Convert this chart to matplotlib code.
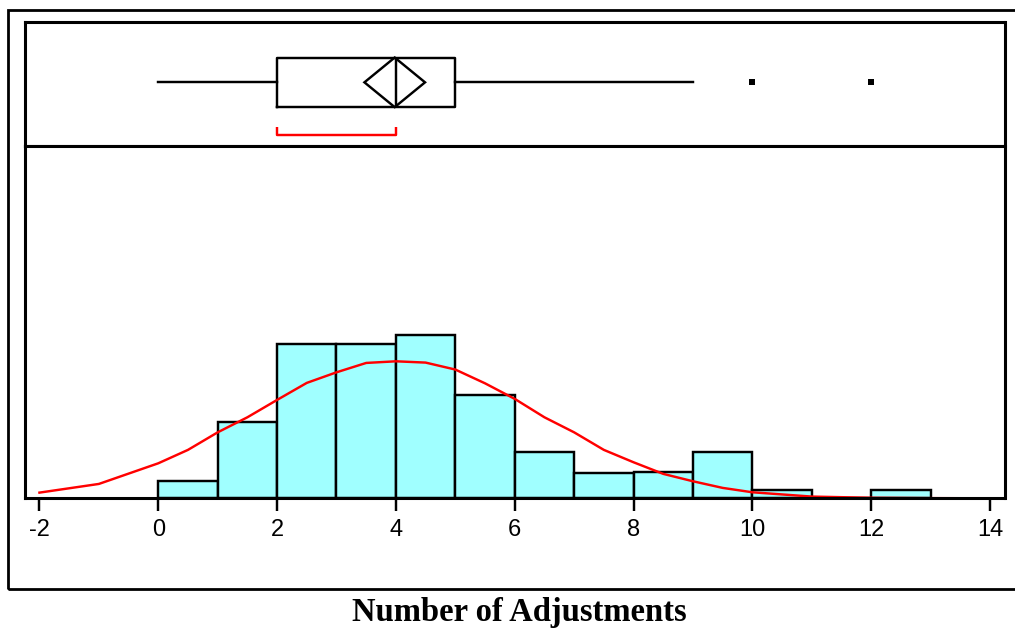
import matplotlib
matplotlib.use("Agg")
import matplotlib.pyplot as plt
from matplotlib.patches import Rectangle, Polygon

# ---- data ----
bin_edges_left = [0, 1, 2, 3, 4, 5, 6, 7, 8, 9, 10, 11, 12]
bin_counts = [2.0, 8.9, 17.9, 17.9, 19.0, 12.0, 5.4, 3.0, 3.1, 5.4, 1.0, 0.0, 1.0]

curve_x = [-2, -1, 0, 0.5, 1, 1.5, 2, 2.5, 3, 3.5, 4, 4.5, 5, 5.5, 6, 6.5,
           7, 7.5, 8, 8.5, 9, 9.5, 10, 11, 12, 13, 14]
curve_y = [0.66, 1.67, 4.07, 5.63, 7.67, 9.42, 11.44, 13.42, 14.65, 15.74, 15.93,
           15.78, 14.97, 13.37, 11.56, 9.42, 7.67, 5.63, 4.19, 2.84, 1.98, 1.21,
           0.70, 0.20, 0.06, 0.02, 0.0]

box_q1, box_median, box_q3 = 2, 4, 5
whisker_lo, whisker_hi = 0, 9
outliers = [10, 12]
mean_value = 3.98
mean_ci_half = 0.51
shortest_half = (2, 4)

x_ticks = [-2, 0, 2, 4, 6, 8, 10, 12, 14]
x_label = "Number of Adjustments"

# ---- figure ----
W, H = 1015, 631
fig = plt.figure(figsize=(W / 100, H / 100), dpi=100)

left_px, right_px = 24.6, 1004.5
top_px, sep_px, base_px = 21.7, 145.7, 498.3
xlim = (-2.25, 14.244)

def fx(px):
    return px / W

def fy(py):
    return 1 - py / H

ax_box = fig.add_axes([fx(left_px), fy(sep_px), fx(right_px - left_px), (sep_px - top_px) / H])
ax_hist = fig.add_axes([fx(left_px), fy(base_px), fx(right_px - left_px), (base_px - sep_px) / H])

# outer frame
fig.add_artist(Rectangle((fx(7.8), fy(589.3)), fx(1030 - 7.8), (589.3 - 10) / H,
                         transform=fig.transFigure, fill=False, lw=2.0, ec="black",
                         clip_on=False))

LW = 1.75

# ---- box plot ----
ax_box.set_xlim(*xlim)
ax_box.set_ylim(0, 1)
ycen = 0.511
stats = [dict(med=box_median, q1=box_q1, q3=box_q3, whislo=whisker_lo,
              whishi=whisker_hi, fliers=outliers)]
ax_box.bxp(stats, positions=[ycen], widths=0.4, vert=False, showcaps=False,
           boxprops=dict(color="black", lw=LW),
           whiskerprops=dict(color="black", lw=LW),
           medianprops=dict(color="black", lw=LW),
           flierprops=dict(marker="s", markersize=5.0, markerfacecolor="black",
                           markeredgewidth=0, linestyle="none"))
hh = 0.2
ax_box.add_patch(Polygon([(mean_value - mean_ci_half, ycen), (mean_value, ycen + hh),
                          (mean_value + mean_ci_half, ycen), (mean_value, ycen - hh)],
                         closed=True, fill=False, ec="black", lw=LW))
br_y, br_top = 0.086, 0.148
ax_box.plot([shortest_half[0], shortest_half[0], shortest_half[1], shortest_half[1]],
            [br_top, br_y, br_y, br_top], color="#ff0000", lw=LW, solid_capstyle="butt")
ax_box.set_xticks([])
ax_box.set_yticks([])
for s in ax_box.spines.values():
    s.set_linewidth(2.2)

# ---- histogram ----
ax_hist.bar(bin_edges_left, bin_counts, width=1, align="edge", color="#a0ffff",
            edgecolor="black", linewidth=LW, zorder=2)
ax_hist.plot(curve_x, curve_y, color="#ff0000", lw=LW, zorder=3)
ax_hist.set_xlim(*xlim)
ax_hist.set_ylim(0, (base_px - sep_px) / 8.6)
ax_hist.set_yticks([])
ax_hist.set_xticks(x_ticks)
ax_hist.set_xticklabels([str(t) for t in x_ticks], family="Liberation Sans", fontsize=17)
ax_hist.tick_params(axis="x", direction="out", length=9.5, width=LW, pad=5.5)
for name, s in ax_hist.spines.items():
    s.set_linewidth(2.2)
ax_hist.spines["bottom"].set_zorder(4)

fig.text(fx(519), fy(612), x_label, family="Liberation Serif", weight="bold",
         fontsize=23.5, ha="center", va="center")

fig.savefig("out.png", dpi=100)
